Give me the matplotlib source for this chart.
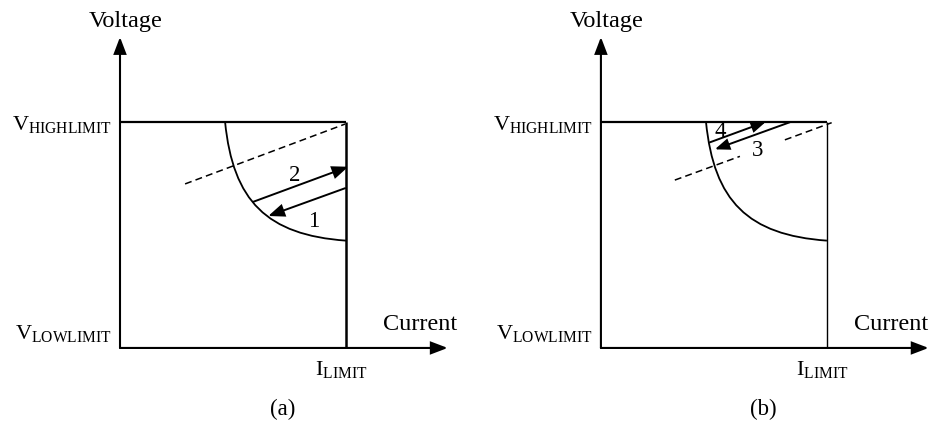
import matplotlib
matplotlib.use("Agg")
import matplotlib.pyplot as plt
from matplotlib.path import Path
from matplotlib.patches import PathPatch, FancyArrowPatch

plt.rcParams['font.family'] = ['Liberation Serif', 'DejaVu Serif']
plt.rcParams['mathtext.fontset'] = 'custom'
plt.rcParams['mathtext.rm'] = 'Liberation Serif'
plt.rcParams['mathtext.it'] = 'Liberation Serif:italic'
plt.rcParams['lines.scale_dashes'] = False

# ---- data (normalised: I_LIMIT = 1, V_LOW = 0, V_HIGH = 1) ----
I_LIMIT = 1.0
V_LOW = 0.0
V_HIGH = 1.0
# constant-power curve (Bezier control points)
curve_x = [0.465, 0.50, 0.65, 1.0]
curve_y = [1.0, 0.65, 0.50, 0.475]

# panel (a)
dash_a_x = [0.288, 0.996]
dash_a_y = [0.726, 0.991]
arrows_a = {"2": ((0.590, 0.647), (1.01, 0.802)),
            "1": ((0.996, 0.707), (0.656, 0.584))}
labels_a = {"2": (0.774, 0.765), "1": (0.855, 0.559)}

# panel (b)
dash_b_segments = [([0.327, 0.615], [0.743, 0.848]),
                   ([0.814, 1.021], [0.921, 0.997])]
arrows_b = {"4": ((0.482, 0.910), (0.730, 1.001)),
            "3": ((0.836, 0.999), (0.504, 0.879))}
labels_b = {"4": (0.527, 0.957), "3": (0.692, 0.876)}

panel_names = ["(a)", "(b)"]
x_ranges = [(-0.531, 1.531), (-0.597, 1.465)]
y_range = (-0.341, 1.540)
current_label_x = [1.164, 1.119]

fig = plt.figure(figsize=(9.32, 4.25), dpi=100)

def arrow(ax, p0, p1, hl=9.5, hw=3.8, lw=1.4):
    a = FancyArrowPatch(p0, p1, arrowstyle=f"-|>,head_length={hl},head_width={hw}",
                        mutation_scale=1, shrinkA=0, shrinkB=0, lw=lw,
                        color="black", joinstyle="miter")
    ax.add_patch(a)

for i in range(2):
    ax = fig.add_axes([0.5 * i, 0, 0.5, 1])
    ax.set_xlim(*x_ranges[i])
    ax.set_ylim(*y_range)
    ax.axis("off")

    # axes with arrows
    arrow(ax, (0, V_LOW), (0, 1.376), hl=10, hw=3.8, lw=1.5)
    arrow(ax, (0, V_LOW), (1.45, V_LOW), hl=10, hw=3.8, lw=1.5)

    # limits
    ax.plot([0, I_LIMIT], [V_HIGH, V_HIGH], color="black", lw=1.6, solid_capstyle="butt")
    ax.plot([I_LIMIT, I_LIMIT], [V_LOW, V_HIGH], color="black",
            lw=1.8 if i == 0 else 1.0, solid_capstyle="butt")

    # curve
    verts = list(zip(curve_x, curve_y))
    path = Path(verts, [Path.MOVETO, Path.CURVE4, Path.CURVE4, Path.CURVE4])
    ax.add_patch(PathPatch(path, fill=False, lw=1.3, edgecolor="black"))

    if i == 0:
        ax.plot(dash_a_x, dash_a_y, color="black", lw=1.1, linestyle=(0, (5, 3)))
        for k, (p0, p1) in arrows_a.items():
            arrow(ax, p0, p1)
        for k, (x, y) in labels_a.items():
            ax.text(x, y, k, fontsize=16.5, ha="center", va="center")
    else:
        for xs, ys in dash_b_segments:
            ax.plot(xs, ys, color="black", lw=1.1, linestyle=(0, (5, 3)))
        for k, (p0, p1) in arrows_b.items():
            arrow(ax, p0, p1, hl=8.5, hw=3.3)
        for k, (x, y) in labels_b.items():
            ax.text(x, y, k, fontsize=16.5, ha="center", va="center")

    # text labels
    ax.text(0.025, 1.42, "Voltage", fontsize=17.5, ha="center", va="baseline")
    ax.text(-0.035, 0.965, r"V$_{\mathrm{HIGHLIMIT}}$", fontsize=16, ha="right", va="baseline")
    ax.text(-0.035, 0.04, r"V$_{\mathrm{LOWLIMIT}}$", fontsize=16, ha="right", va="baseline")
    ax.text(current_label_x[i], 0.08, "Current", fontsize=17.5, ha="left", va="baseline")
    ax.text(0.98, -0.12, r"I$_{\mathrm{LIMIT}}$", fontsize=16, ha="center", va="baseline")
    ax.text(0.72, -0.274, panel_names[i], fontsize=16.5, ha="center", va="center")

fig.savefig("out.png", dpi=100)
